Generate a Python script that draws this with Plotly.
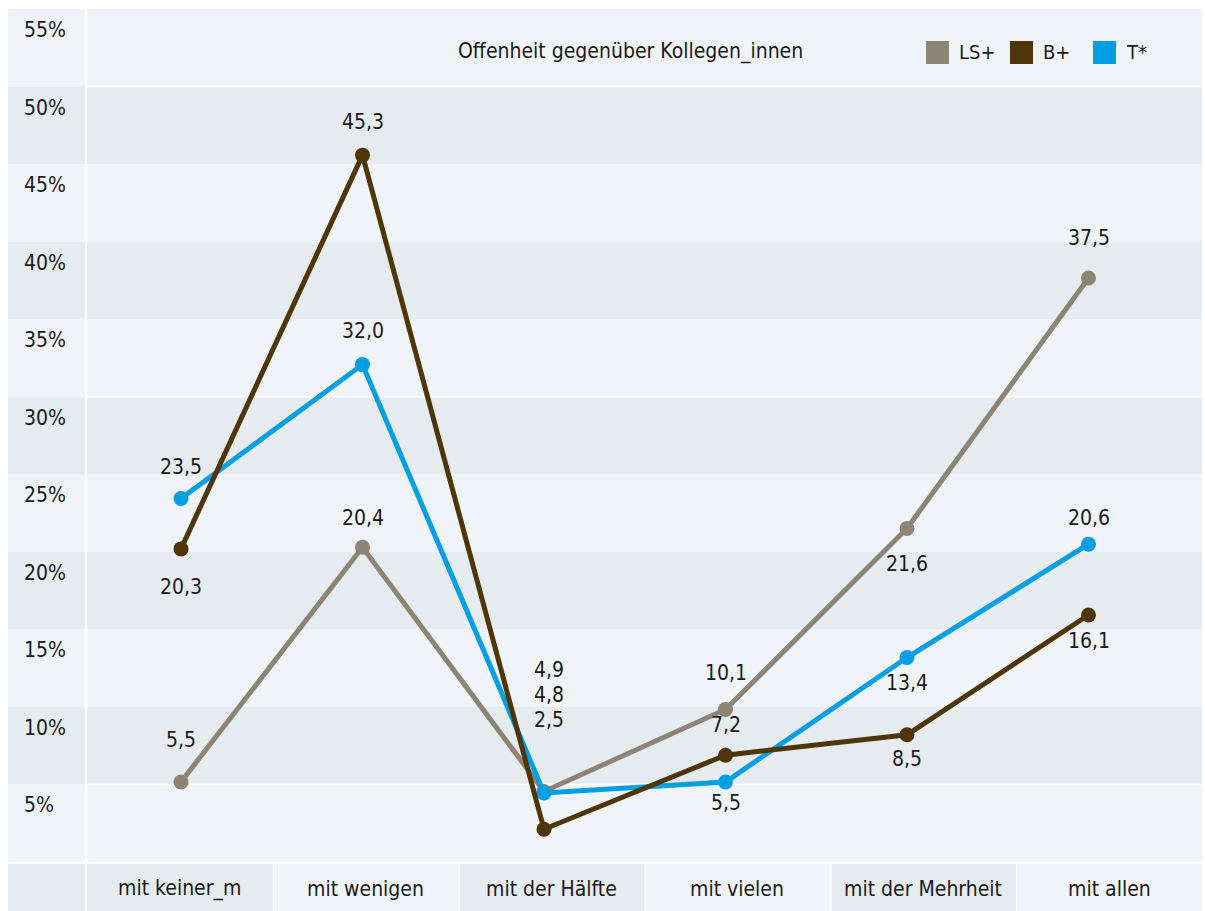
import plotly.graph_objects as go

# Categories and values (percent)
categories = ["mit keiner_m", "mit wenigen", "mit der Hälfte", "mit vielen", "mit der Mehrheit", "mit allen"]
ls_plus = [5.5, 20.4, 4.9, 10.1, 21.6, 37.5]
b_plus = [20.3, 45.3, 2.5, 7.2, 8.5, 16.1]
t_star = [23.5, 32.0, 4.8, 5.5, 13.4, 20.6]
y_ticks = [5, 10, 15, 20, 25, 30, 35, 40, 45, 50, 55]
title_text = "Offenheit gegenüber Kollegen_innen"

# Styling
FONT = "DejaVu Sans Condensed, Liberation Sans Narrow, Roboto, sans-serif"
TXT = "#1a1a1a"
LIGHT = "#f0f4f8"
DARK = "#e6ebf0"
series = [
    ("LS+", ls_plus, "#8c8576"),
    ("B+", b_plus, "#4f3609"),
    ("T*", t_star, "#009fe3"),
]
draw_order = ["LS+", "T*", "B+"]

# Vertical pixel offsets of the value labels (negative = above the point)
label_shift = {
    "LS+": [-42, -29, -121, -37, 36, -40],
    "B+": [38, -33, -109, -30, 24, 26],
    "T*": [-31, -34, -98, 21, 25, -26],
}

W, H = 1205, 911
L, R, T, B = 87, 3, 9, 49
pw, ph = W - L - R, H - T - B
n = len(categories)
n_bands = len(y_ticks)

fig = go.Figure()
lookup = {name: (vals, col) for name, vals, col in series}
for name in draw_order:
    vals, col = lookup[name]
    fig.add_trace(go.Scatter(
        x=list(range(n)), y=vals, mode="lines+markers", name=name,
        line=dict(color=col, width=5),
        marker=dict(color=col, size=15),
        showlegend=False, hoverinfo="skip",
    ))

shapes = []
annotations = []

def px_x(p):
    return (p - L) / pw

def px_y(p):
    return 1 - (p - T) / ph

# Horizontal bands in plot and in the left label column
for i in range(n_bands):
    y0, y1 = i / n_bands, (i + 1) / n_bands
    col = LIGHT if (n_bands - 1 - i) % 2 == 0 else DARK
    for x0, x1 in [(0, 1), (px_x(8), px_x(85))]:
        shapes.append(dict(type="rect", xref="paper", yref="paper", x0=x0, x1=x1, y0=y0, y1=y1,
                           fillcolor=col, line=dict(width=0), layer="below"))

# Thin white separators
for k in [1, 6, 10]:
    shapes.append(dict(type="line", xref="paper", yref="paper", x0=0, x1=1,
                       y0=k / n_bands, y1=k / n_bands,
                       line=dict(color="white", width=1.5), layer="below"))

# Category row under the plot
row_y0 = -B / ph
row_y1 = -2 / ph
shapes.append(dict(type="rect", xref="paper", yref="paper", x0=px_x(8), x1=px_x(85),
                   y0=row_y0, y1=row_y1, fillcolor=DARK, line=dict(width=0), layer="below"))
for i, cat in enumerate(categories):
    shapes.append(dict(type="rect", xref="paper", yref="paper",
                       x0=i / n + (0.001 if i else 0), x1=(i + 1) / n, y0=row_y0, y1=row_y1,
                       fillcolor=DARK if i % 2 == 0 else LIGHT, line=dict(width=0), layer="below"))
    annotations.append(dict(xref="paper", yref="paper", x=(i + 0.5) / n, y=px_y(889),
                            text=cat, showarrow=False, xanchor="center", yanchor="middle",
                            font=dict(family=FONT, size=21, color=TXT)))

# Y tick labels near the top of each band
for i, t in enumerate(y_ticks):
    top = (i + 1) / n_bands
    annotations.append(dict(xref="paper", yref="paper", x=px_x(22), y=top - 21 / ph,
                            text=f"{t}%", showarrow=False, xanchor="left", yanchor="middle",
                            font=dict(family=FONT, size=21, color=TXT)))

# Value labels
for name, vals, col in series:
    for i, v in enumerate(vals):
        annotations.append(dict(x=i, y=v, xref="x", yref="y",
                                text=f"{v:.1f}".replace(".", ","), showarrow=False,
                                yshift=-label_shift[name][i], xshift=5 if i == 2 else 0,
                                font=dict(family=FONT, size=21, color=TXT)))

# Title
annotations.append(dict(xref="paper", yref="paper", x=px_x(630), y=px_y(52),
                        text=title_text, showarrow=False, xanchor="center", yanchor="middle",
                        font=dict(family=FONT, size=21, color=TXT)))

# Legend drawn as swatches + labels
legend_x = [926, 1010, 1093]
for (name, vals, col), lx in zip(series, legend_x):
    shapes.append(dict(type="rect", xref="paper", yref="paper",
                       x0=px_x(lx), x1=px_x(lx + 23), y0=px_y(64), y1=px_y(41),
                       fillcolor=col, line=dict(width=0)))
    annotations.append(dict(xref="paper", yref="paper", x=px_x(lx + 31), y=px_y(52),
                            text=name, showarrow=False, xanchor="left", yanchor="middle",
                            font=dict(family=FONT, size=20, color=TXT)))

# Axis scales: first category at x=181 px, 181.5 px per step; 15.75 px per percent
step = 181.5
x_lo = -(181 - L) / step
x_hi = x_lo + pw / step
y_scale = 15.75
y_lo = 6.6 / y_scale
y_hi = y_lo + ph / y_scale

fig.update_layout(
    width=W, height=H,
    margin=dict(l=L, r=R, t=T, b=B, pad=0),
    paper_bgcolor="white", plot_bgcolor=LIGHT,
    shapes=shapes, annotations=annotations,
    xaxis=dict(range=[x_lo, x_hi], showgrid=False, zeroline=False, showline=False,
               showticklabels=False, ticks="", fixedrange=True),
    yaxis=dict(range=[y_lo, y_hi], showgrid=False, zeroline=False, showline=False,
               showticklabels=False, fixedrange=True),
    showlegend=False,
)

fig.write_html("out.html")
